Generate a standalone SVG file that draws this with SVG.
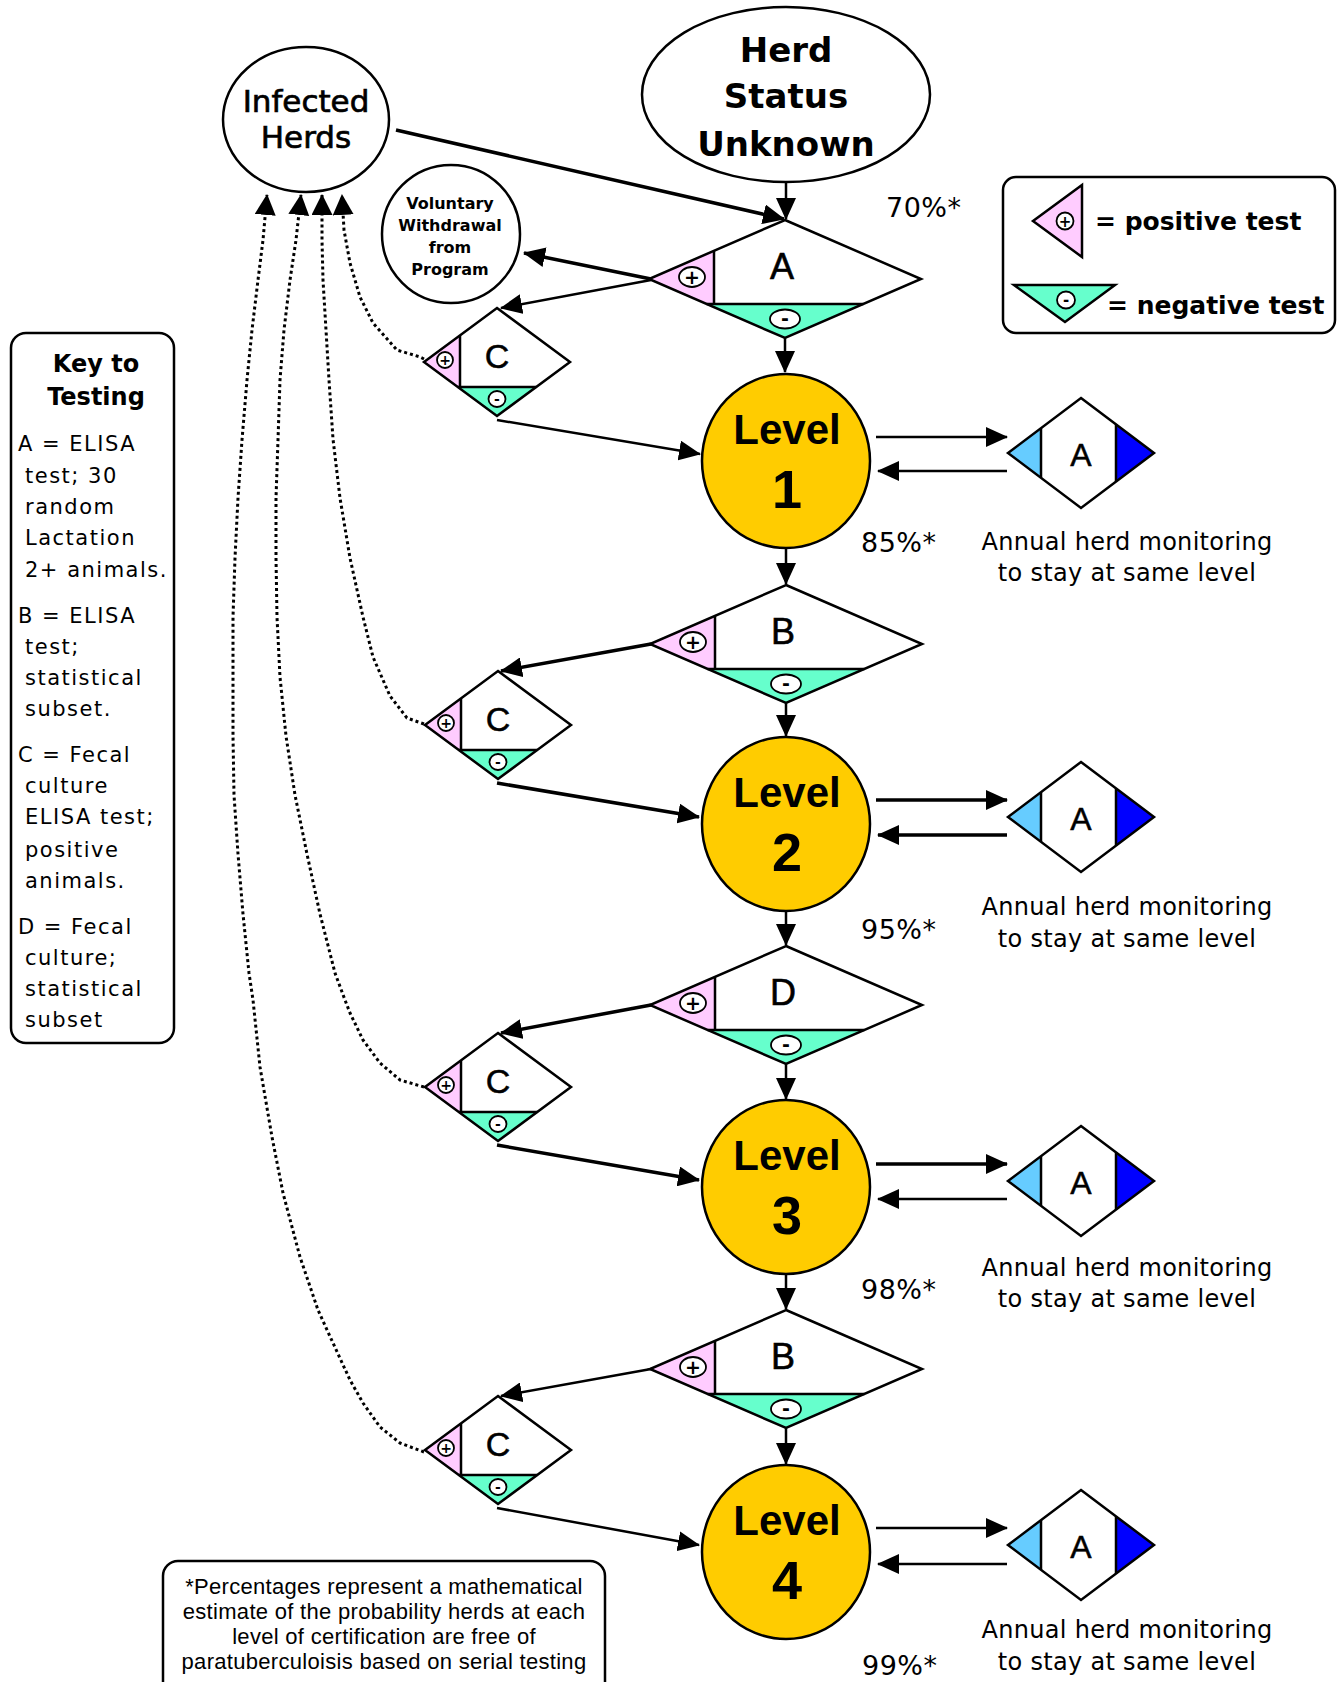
<svg xmlns="http://www.w3.org/2000/svg" xmlns:xlink="http://www.w3.org/1999/xlink" width="1342" height="1682" viewBox="0 0 1342 1682">
<defs>
<style>
.pink{fill:#FFCCFF}
.green{fill:#66FFCC}
.lblue{fill:#66CCFF}
.dblue{fill:#0000FF}
.lvl{fill:#FFCC00;stroke:#000;stroke-width:2.5}
.wh{fill:#fff;stroke:#000;stroke-width:2.5}
.nf{fill:none;stroke:#000;stroke-width:2.5}
.pm{fill:#fff;stroke:#000;stroke-width:1.8}
.pmt{font-family:"DejaVu Sans",sans-serif;font-weight:bold;text-anchor:middle}
.c{stroke:#000;fill:none;stroke-width:2.5;marker-end:url(#ah)}
.ct{stroke-width:3.5}
.dot{stroke:#000;fill:none;stroke-width:3;stroke-dasharray:3 3;stroke-linejoin:round;marker-end:url(#ahd)}
text{fill:#000}
.big{font-family:"DejaVu Sans",sans-serif;font-weight:bold;font-size:34px;text-anchor:middle}
.inf{font-family:"DejaVu Sans",sans-serif;font-size:31px;text-anchor:middle;stroke:#000;stroke-width:0.7}
.vol{font-family:"DejaVu Sans",sans-serif;font-weight:bold;font-size:16px;text-anchor:middle}
.lv{font-family:"Liberation Sans",Arial,sans-serif;font-weight:bold;font-size:42px;text-anchor:middle}
.num{font-family:"Liberation Sans",Arial,sans-serif;font-weight:bold;font-size:54px;text-anchor:middle}
.dl{font-family:"Liberation Sans",Arial,sans-serif;font-size:36px;text-anchor:middle;stroke:#000;stroke-width:0.6}
.cl{font-family:"Liberation Sans",Arial,sans-serif;font-size:34px;text-anchor:middle;stroke:#000;stroke-width:0.5}
.ma{font-family:"Liberation Sans",Arial,sans-serif;font-size:32px;text-anchor:middle;stroke:#000;stroke-width:0.5}
.pct{font-family:"DejaVu Sans",sans-serif;font-size:27px;letter-spacing:0.5px}
.ann{font-family:"DejaVu Sans",sans-serif;font-size:24px;text-anchor:middle;letter-spacing:0.3px}
.leg{font-family:"DejaVu Sans",sans-serif;font-weight:bold;font-size:25px}
.key{font-family:"DejaVu Sans",sans-serif;font-size:21px;letter-spacing:1.5px}
.keyh{font-family:"DejaVu Sans",sans-serif;font-weight:bold;font-size:24px;text-anchor:middle}
.foot{font-family:"Liberation Sans",Arial,sans-serif;font-size:22px;text-anchor:middle;letter-spacing:0.3px}
</style>
<marker id="ah" markerUnits="userSpaceOnUse" markerWidth="24" markerHeight="20" refX="21" refY="10" orient="auto"><path d="M0,0 L22,10 L0,20 Z" fill="#000"/></marker>
<marker id="ahd" markerUnits="userSpaceOnUse" markerWidth="22" markerHeight="22" refX="20" refY="10.5" orient="auto"><path d="M0,0 L21,10.5 L0,21 Z" fill="#000"/></marker>
<g id="bd">
<polygon points="0,-59 136,0 0,59 -136,0" fill="#fff"/>
<polygon class="pink" points="-136,0 -71,-28.2 -71,25 -78.4,25"/>
<polygon class="green" points="-78.4,25 78.4,25 0,59"/>
<path class="nf" d="M-71,-28.2 V25 M-78.4,25 H78.4"/>
<polygon class="nf" points="0,-59 136,0 0,59 -136,0"/>
<ellipse class="pm" cx="-93" cy="-2" rx="13" ry="10"/>
<text class="pmt" x="-93" y="5" font-size="19">+</text>
<ellipse class="pm" cx="0" cy="40" rx="15" ry="9.5"/>
<text class="pmt" x="0" y="46" font-size="19">-</text>
</g>
<g id="cd">
<polygon points="0,-54 73,0 0,54 -73,0" fill="#fff"/>
<polygon class="pink" points="-73,0 -37,-26.6 -37,25 -39.2,25"/>
<polygon class="green" points="-39.2,25 39.2,25 0,54"/>
<path class="nf" d="M-37,-26.6 V25 M-39.2,25 H39.2"/>
<polygon class="nf" points="0,-54 73,0 0,54 -73,0"/>
<ellipse class="pm" cx="-52" cy="-2" rx="8" ry="8"/>
<text class="pmt" x="-52" y="3" font-size="14">+</text>
<ellipse class="pm" cx="0" cy="37" rx="8.5" ry="8"/>
<text class="pmt" x="0" y="42" font-size="14">-</text>
</g>
<g id="md">
<polygon points="0,-55 73,0 0,55 -73,0" fill="#fff"/>
<polygon class="lblue" points="-73,0 -40,-24.9 -40,24.9"/>
<polygon class="dblue" points="73,0 35,-28.6 35,28.6"/>
<path class="nf" d="M-40,-24.9 V24.9 M35,-28.6 V28.6"/>
<polygon class="nf" points="0,-55 73,0 0,55 -73,0"/>
</g>
</defs>
<rect width="1342" height="1682" fill="#fff"/>

<g id="herd-status-unknown">
<ellipse class="wh" cx="786" cy="94.5" rx="144" ry="87.5"/>
<text class="big" x="786" y="62">Herd</text>
<text class="big" x="786" y="108">Status</text>
<text class="big" x="786" y="156">Unknown</text>
</g>
<g id="infected-herds">
<ellipse class="wh" cx="306" cy="119.5" rx="83" ry="72.5"/>
<text class="inf" x="306" y="112">Infected</text>
<text class="inf" x="306" y="148">Herds</text>
</g>
<g id="voluntary-withdrawal">
<ellipse class="wh" cx="451" cy="234" rx="69" ry="69"/>
<text class="vol" x="450" y="209">Voluntary</text>
<text class="vol" x="450" y="231">Withdrawal</text>
<text class="vol" x="450" y="253">from</text>
<text class="vol" x="450" y="275">Program</text>
</g>

<g id="connectors">
<line class="c" x1="786" y1="182" x2="786" y2="219"/>
<line class="c ct" x1="396" y1="130" x2="784" y2="219"/>
<line class="c ct" x1="651" y1="279" x2="524" y2="253"/>
<line class="c" x1="651" y1="280" x2="501" y2="308"/>
<line class="c" x1="785" y1="338" x2="785" y2="372"/>
<line class="c" x1="497" y1="420" x2="700" y2="454"/>
<path class="dot" d="M424,359 L420,357 L397,350 L373,323 L360,297 L350,263 L344,230 L342,195"/>
<line class="c" x1="876" y1="437" x2="1007" y2="437"/>
<line class="c" x1="1007" y1="471" x2="878" y2="471"/>
<line class="c" x1="786" y1="549" x2="786" y2="584"/>
<line class="c ct" x1="651" y1="644" x2="501" y2="671"/>
<line class="c" x1="786" y1="703" x2="786" y2="736"/>
<line class="c ct" x1="497" y1="783" x2="699" y2="817"/>
<path class="dot" d="M424,724 L407,718 L390,696 L373,657 L363,617 L350,558 L340,498 L333,439 L329,380 L326,330 L323,280 L322,240 L322,195"/>
<line class="c ct" x1="876" y1="800" x2="1007" y2="800"/>
<line class="c ct" x1="1007" y1="835" x2="878" y2="835"/>
<line class="c" x1="786" y1="911" x2="786" y2="945"/>
<line class="c ct" x1="651" y1="1005" x2="501" y2="1033"/>
<line class="c" x1="786" y1="1064" x2="786" y2="1099"/>
<line class="c ct" x1="497" y1="1145" x2="699" y2="1180"/>
<path class="dot" d="M424,1087 L400,1080 L380,1063 L363,1040 L350,1013 L345,1000 L335,973 L320,914 L307,854 L295,795 L286,736 L280,677 L277,617 L276,558 L276,498 L278,440 L280,380 L284,330 L290,280 L296,240 L301,195"/>
<line class="c ct" x1="876" y1="1164" x2="1007" y2="1164"/>
<line class="c" x1="1007" y1="1199" x2="878" y2="1199"/>
<line class="c" x1="786" y1="1274" x2="786" y2="1309"/>
<line class="c" x1="651" y1="1369" x2="501" y2="1396"/>
<line class="c" x1="786" y1="1428" x2="786" y2="1464"/>
<line class="c" x1="497" y1="1508" x2="699" y2="1545"/>
<path class="dot" d="M424,1452 L400,1443 L380,1427 L363,1403 L350,1380 L333,1343 L318,1310 L300,1257 L283,1193 L272,1137 L260,1067 L253,1000 L249,973 L243,914 L238,854 L234,795 L233,736 L233,677 L233,617 L235,558 L238,498 L242,440 L247,380 L252,330 L258,280 L263,240 L267,195"/>
<line class="c" x1="876" y1="1528" x2="1007" y2="1528"/>
<line class="c" x1="1007" y1="1564" x2="878" y2="1564"/>
</g>

<g id="test-A" transform="translate(785,279)"><use xlink:href="#bd"/><text class="dl" x="-3" y="0">A</text></g>
<g id="test-B1" transform="translate(786,644)"><use xlink:href="#bd"/><text class="dl" x="-3" y="0">B</text></g>
<g id="test-D" transform="translate(786,1005)"><use xlink:href="#bd"/><text class="dl" x="-3" y="0">D</text></g>
<g id="test-B2" transform="translate(786,1369)"><use xlink:href="#bd"/><text class="dl" x="-3" y="0">B</text></g>

<g id="test-C1" transform="translate(497,362)"><use xlink:href="#cd"/><text class="cl" x="0" y="6">C</text></g>
<g id="test-C2" transform="translate(498,725)"><use xlink:href="#cd"/><text class="cl" x="0" y="6">C</text></g>
<g id="test-C3" transform="translate(498,1087)"><use xlink:href="#cd"/><text class="cl" x="0" y="6">C</text></g>
<g id="test-C4" transform="translate(498,1450)"><use xlink:href="#cd"/><text class="cl" x="0" y="6">C</text></g>

<g id="level-1"><ellipse class="lvl" cx="786" cy="461" rx="84" ry="87"/><text class="lv" x="787" y="444">Level</text><text class="num" x="787" y="508">1</text></g>
<g id="level-2"><ellipse class="lvl" cx="786" cy="824" rx="84" ry="87"/><text class="lv" x="787" y="807">Level</text><text class="num" x="787" y="871">2</text></g>
<g id="level-3"><ellipse class="lvl" cx="786" cy="1187" rx="84" ry="87"/><text class="lv" x="787" y="1170">Level</text><text class="num" x="787" y="1234">3</text></g>
<g id="level-4"><ellipse class="lvl" cx="786" cy="1552" rx="84" ry="87"/><text class="lv" x="787" y="1535">Level</text><text class="num" x="787" y="1599">4</text></g>

<g id="monitor-1" transform="translate(1081,453)"><use xlink:href="#md"/><text class="ma" x="0" y="13">A</text></g>
<g id="monitor-2" transform="translate(1081,817)"><use xlink:href="#md"/><text class="ma" x="0" y="13">A</text></g>
<g id="monitor-3" transform="translate(1081,1181)"><use xlink:href="#md"/><text class="ma" x="0" y="13">A</text></g>
<g id="monitor-4" transform="translate(1081,1545)"><use xlink:href="#md"/><text class="ma" x="0" y="13">A</text></g>

<g id="annual-labels">
<text class="ann" x="1127" y="550">Annual herd monitoring</text>
<text class="ann" x="1127" y="581">to stay at same level</text>
<text class="ann" x="1127" y="915">Annual herd monitoring</text>
<text class="ann" x="1127" y="947">to stay at same level</text>
<text class="ann" x="1127" y="1276">Annual herd monitoring</text>
<text class="ann" x="1127" y="1307">to stay at same level</text>
<text class="ann" x="1127" y="1638">Annual herd monitoring</text>
<text class="ann" x="1127" y="1670">to stay at same level</text>
</g>

<g id="percentages">
<text class="pct" x="886" y="217">70%*</text>
<text class="pct" x="861" y="552">85%*</text>
<text class="pct" x="861" y="939">95%*</text>
<text class="pct" x="861" y="1299">98%*</text>
<text class="pct" x="862" y="1675">99%*</text>
</g>

<g id="legend">
<rect class="wh" x="1003" y="177" width="332" height="156" rx="13"/>
<polygon class="pink" points="1033,221 1082,185 1082,257" stroke="#000" stroke-width="2.5"/>
<ellipse class="pm" cx="1065" cy="221" rx="8.5" ry="8.5"/>
<text class="pmt" x="1065" y="227" font-size="15">+</text>
<text class="leg" x="1095" y="230">= positive test</text>
<polygon class="green" points="1014,285 1115,285 1065,322" stroke="#000" stroke-width="2.5"/>
<ellipse class="pm" cx="1066" cy="300" rx="9" ry="8.5"/>
<text class="pmt" x="1066" y="305" font-size="15">-</text>
<text class="leg" x="1107" y="314">= negative test</text>
</g>

<g id="key-to-testing">
<rect class="wh" x="11" y="333" width="163" height="710" rx="15"/>
<text class="keyh" x="96" y="372">Key to</text>
<text class="keyh" x="96" y="405">Testing</text>
<text class="key" x="18" y="451">A = ELISA</text>
<text class="key" x="25" y="483">test; 30</text>
<text class="key" x="25" y="514">random</text>
<text class="key" x="25" y="545">Lactation</text>
<text class="key" x="25" y="577">2+ animals.</text>
<text class="key" x="18" y="623">B = ELISA</text>
<text class="key" x="25" y="654">test;</text>
<text class="key" x="25" y="685">statistical</text>
<text class="key" x="25" y="716">subset.</text>
<text class="key" x="18" y="762">C = Fecal</text>
<text class="key" x="25" y="793">culture</text>
<text class="key" x="25" y="824">ELISA test;</text>
<text class="key" x="25" y="857">positive</text>
<text class="key" x="25" y="888">animals.</text>
<text class="key" x="18" y="934">D = Fecal</text>
<text class="key" x="25" y="965">culture;</text>
<text class="key" x="25" y="996">statistical</text>
<text class="key" x="25" y="1027">subset</text>
</g>

<g id="footnote">
<rect class="wh" x="163" y="1561" width="442" height="140" rx="15"/>
<text class="foot" x="384" y="1594">*Percentages represent a mathematical</text>
<text class="foot" x="384" y="1619">estimate of the probability herds at each</text>
<text class="foot" x="384" y="1644">level of certification are free of</text>
<text class="foot" x="384" y="1669">paratuberculoisis based on serial testing</text>
</g>
</svg>
